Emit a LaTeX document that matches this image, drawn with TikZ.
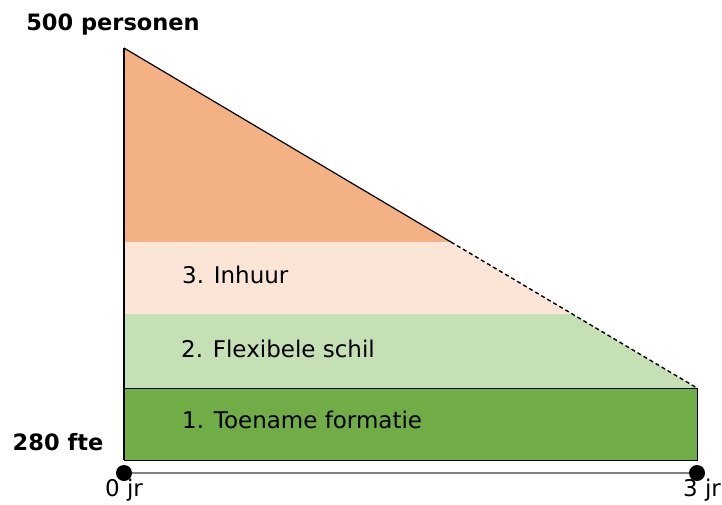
\documentclass[tikz,border=0pt]{standalone}
\usepackage{fontspec}
\setmainfont{DejaVu Sans}
\usetikzlibrary{calc}

\definecolor{oranje}{HTML}{F4B183}
\definecolor{perzik}{HTML}{FBE5D6}
\definecolor{lichtgroen}{HTML}{C5E0B4}
\definecolor{donkergroen}{HTML}{70AD47}

\tikzset{
	label/.style={anchor=west, inner sep=0pt, font=\fontsize{23}{27}\selectfont},
	vetlabel/.style={inner sep=0pt, font=\fontsize{22.5}{26}\selectfont\bfseries},
	punt/.style={circle, fill=black, inner sep=0pt, minimum size=16pt},
}

\begin{document}
\begin{tikzpicture}[x=1pt, y=-1pt]
		\useasboundingbox (0, 0) rectangle (722, 504);
		\coordinate (top) at (124, 48);
		\coordinate (hoek) at (697, 388);
		\coordinate (a) at ($(top)!0.5706!(hoek)$);
		\coordinate (b) at ($(top)!0.7824!(hoek)$);
		\fill[oranje] (top) -- (a) -- (124, 242) -- cycle;
		\fill[perzik] (124, 242) -- (a) -- (b) -- (124, 314) -- cycle;
		\fill[lichtgroen] (124, 314) -- (b) -- (hoek) -- (124, 388) -- cycle;
		\draw[fill=donkergroen, line width=1pt] (124, 388) rectangle (697, 460);
		% randen
		\draw[line width=1.2pt] (top) -- (124, 460);
		\draw[line width=1.2pt] (top) -- (a);
		\draw[line width=1.4pt, dash pattern=on 4pt off 3pt] (a) -- (hoek);
		% tijdas
		\node[punt] (nul) at (124, 473) {};
		\node[punt] (drie) at (697, 473) {};
		\draw[gray, line width=2pt] (nul) -- (drie);
		\node[label] (inhuur) at (182, 275) {3. Inhuur};
		\node[label] (schil) at (181, 349) {2. Flexibele schil};
		\node[label] (formatie) at (182, 420) {1. Toename formatie};
		\node[vetlabel] (personen) at (113, 24) {500 personen};
		\node[vetlabel] (fte) at (58, 442) {280 fte};
		\node[label, anchor=center] (nuljr) at (124, 490) {0 jr};
		\node[label, anchor=center] (driejr) at (702, 490) {3 jr};
	\end{tikzpicture}
\end{document}
